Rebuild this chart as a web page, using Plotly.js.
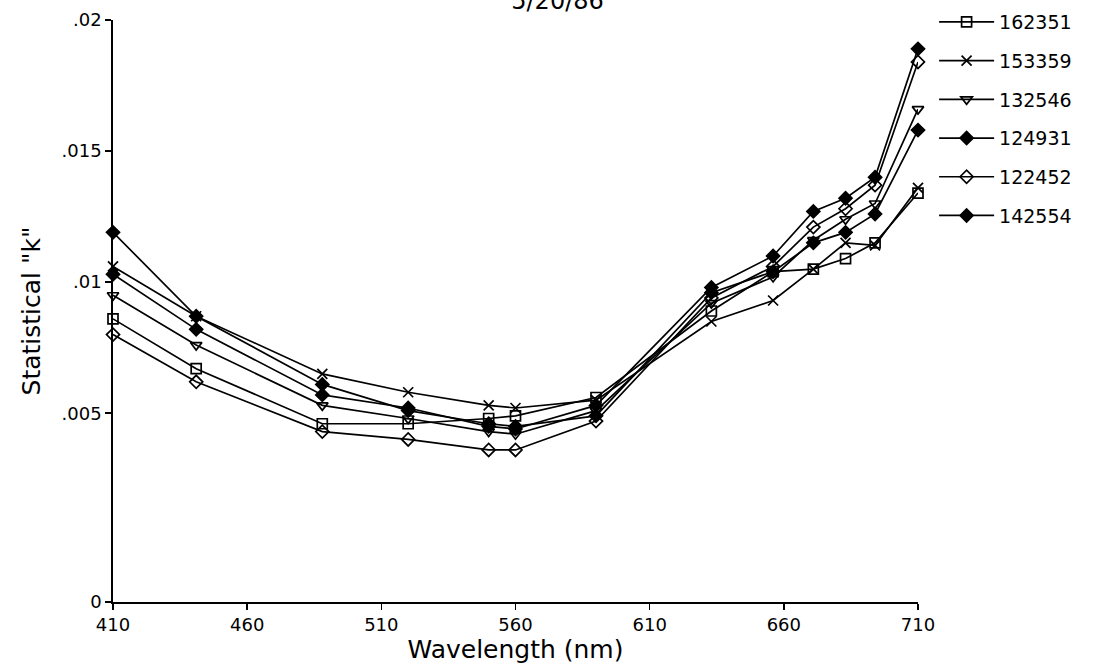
<!DOCTYPE html>
<html>
<head>
<meta charset="utf-8">
<script src="https://cdn.plot.ly/plotly-3.0.1.min.js"></script>
<style>html,body{margin:0;padding:0;background:#fff;}#chart{width:1104px;height:671px;}</style>
</head>
<body>
<div id="chart"></div>
<script>
// Wavelengths (nm)
var wavelengths = [410, 441, 488, 520, 550, 560, 590, 633, 656, 671, 683, 694, 710];

// Series values (statistical "k")
var s162351 = [0.0086, 0.0067, 0.0046, 0.0046, 0.0048, 0.0049, 0.0056, 0.0089, 0.0104, 0.0105, 0.0109, 0.0115, 0.0134];
var s153359 = [0.0106, 0.0087, 0.0065, 0.0058, 0.0053, 0.0052, 0.0055, 0.0085, 0.0093, 0.0105, 0.0115, 0.0114, 0.0136];
var s132546 = [0.0095, 0.0076, 0.0053, 0.0048, 0.0043, 0.0042, 0.0051, 0.0092, 0.0102, 0.0116, 0.0124, 0.0130, 0.0166];
var s124931 = [0.0103, 0.0082, 0.0057, 0.0052, 0.0045, 0.0044, 0.0053, 0.0098, 0.0110, 0.0127, 0.0132, 0.0140, 0.0189];
var s122452 = [0.0080, 0.0062, 0.0043, 0.0040, 0.0036, 0.0036, 0.0047, 0.0094, 0.0106, 0.0121, 0.0128, 0.0137, 0.0184];
var s142554 = [0.0119, 0.0087, 0.0061, 0.0051, 0.0046, 0.0045, 0.0049, 0.0096, 0.0104, 0.0115, 0.0119, 0.0126, 0.0158];

var seriesNames = ["162351", "153359", "132546", "124931", "122452", "142554"];
var seriesValues = [s162351, s153359, s132546, s124931, s122452, s142554];
var seriesSymbols = ["square-open", "x-thin-open", "triangle-down-open", "diamond", "diamond-open", "diamond"];

var xTicks = [410, 460, 510, 560, 610, 660, 710];
// the original axis places its "0" label at the foot of the axis, below an evenly spaced .005-.02 scale
var yBottom = -0.0022;
var yTickVals = [yBottom, 0.005, 0.01, 0.015, 0.02];
var yTickText = ["0", ".005", ".01", ".015", ".02"];

var FONT = "DejaVu Sans, Noto Sans, sans-serif";

var traces = seriesNames.map(function (name, i) {
  return {
    x: wavelengths,
    y: seriesValues[i],
    name: name,
    legendgroup: name,
    type: "scatter",
    mode: "lines+markers",
    line: {color: "#000", width: 1.7},
    marker: {symbol: seriesSymbols[i], size: 10, color: "#000", line: {color: "#000", width: 1.7}},
    cliponaxis: false
  };
});

var layout = {
  width: 1104,
  height: 671,
  paper_bgcolor: "#fff",
  plot_bgcolor: "#fff",
  margin: {l: 113, r: 186, t: 20, b: 69, autoexpand: false},
  font: {family: FONT, color: "#000", size: 18},
  title: {text: "5/20/86", font: {family: FONT, size: 24, color: "#000"}, xref: "container", yref: "container", x: 0.505, xanchor: "center", y: 0.999, yanchor: "middle"},
  showlegend: true,
  legend: {x: 1.02, xanchor: "left", y: 1.029, yanchor: "top", font: {family: FONT, size: 19, color: "#000"}, tracegroupgap: 11, itemwidth: 55, bgcolor: "rgba(0,0,0,0)"},
  xaxis: {
    range: [410, 710],
    tickvals: xTicks,
    ticktext: xTicks.map(String),
    ticks: "outside",
    ticklen: 6,
    tickwidth: 1.5,
    tickcolor: "#000",
    showline: true,
    linecolor: "#000",
    linewidth: 1.7,
    showgrid: false,
    zeroline: false,
    tickfont: {family: FONT, size: 18, color: "#000"},
    title: {text: "Wavelength (nm)", font: {family: FONT, size: 25, color: "#000"}, standoff: 5}
  },
  yaxis: {
    range: [yBottom, 0.02],
    tickvals: yTickVals,
    ticktext: yTickText,
    ticks: "outside",
    ticklen: 6,
    tickwidth: 1.5,
    tickcolor: "#000",
    showline: true,
    linecolor: "#000",
    linewidth: 1.7,
    showgrid: false,
    zeroline: false,
    tickfont: {family: FONT, size: 18, color: "#000"},
    title: {text: "Statistical \"k\"", font: {family: FONT, size: 25, color: "#000"}, standoff: 14}
  }
};

Plotly.newPlot("chart", traces, layout, {displayModeBar: false, staticPlot: true});
</script>
</body>
</html>
